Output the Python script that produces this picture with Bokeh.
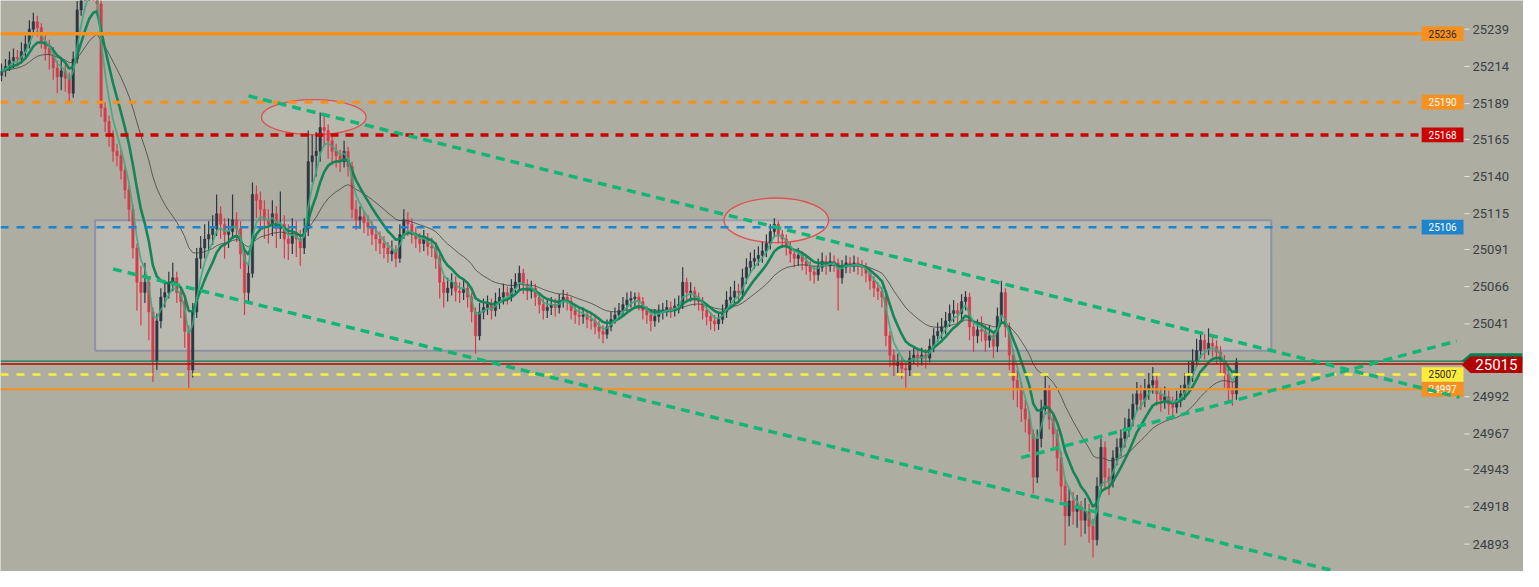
from bokeh.plotting import figure
from bokeh.models import ColumnDataSource, Range1d
from bokeh.core.properties import value
from bokeh.embed import file_html
from bokeh.resources import INLINE

# ---------------- data ----------------
first_open = 25208
closes = [
    25211, 25214, 25218, 25220, 25219, 25224, 25229, 25239, 25244, 25240,
    25231, 25226, 25222, 25213, 25207, 25211, 25206, 25196, 25219, 25252,
    25264, 25272, 25276, 25266, 25256, 25186, 25177, 25167, 25157, 25154,
    25144, 25131, 25118, 25092, 25069, 25062, 25069, 25049, 25016, 25043,
    25059, 25062, 25069, 25072, 25062, 25056, 25036, 25010, 25049, 25085,
    25092, 25098, 25101, 25105, 25115, 25108, 25101, 25103, 25111, 25105,
    25088, 25062, 25075, 25128, 25124, 25118, 25111, 25108, 25115, 25105,
    25108, 25098, 25095, 25101, 25098, 25092, 25105, 25150, 25154, 25157,
    25173, 25171, 25164, 25157, 25154, 25150, 25157, 25147, 25118, 25111,
    25113, 25109, 25106, 25101, 25098, 25095, 25092, 25088, 25090, 25085,
    25101, 25111, 25108, 25101, 25098, 25095, 25098, 25093, 25092, 25085,
    25069, 25062, 25065, 25069, 25063, 25062, 25065, 25059, 25049, 25033,
    25049, 25052, 25054, 25050, 25056, 25059, 25062, 25060, 25065, 25069,
    25075, 25067, 25063, 25065, 25059, 25054, 25050, 25052, 25054, 25052,
    25056, 25059, 25056, 25050, 25047, 25046, 25047, 25044, 25043, 25039,
    25036, 25034, 25039, 25044, 25047, 25050, 25054, 25057, 25058, 25059,
    25056, 25050, 25047, 25043, 25046, 25049, 25050, 25052, 25050, 25053,
    25054, 25069, 25062, 25063, 25059, 25056, 25050, 25046, 25043, 25041,
    25044, 25049, 25057, 25059, 25063, 25062, 25072, 25079, 25083, 25085,
    25087, 25090, 25095, 25103, 25108, 25101, 25098, 25093, 25088, 25085,
    25087, 25083, 25080, 25076, 25074, 25079, 25083, 25080, 25083, 25082,
    25072, 25079, 25082, 25080, 25082, 25080, 25079, 25075, 25070, 25065,
    25063, 25059, 25033, 25020, 25013, 25015, 25011, 25010, 25018, 25020,
    25018, 25020, 25018, 25026, 25033, 25036, 25039, 25043, 25048, 25050,
    25048, 25056, 25059, 25039, 25033, 25037, 25036, 25030, 25033, 25026,
    25046, 25062, 25039, 25020, 25003, 24997, 24984, 24977, 24967, 24938,
    24964, 24984, 24997, 24977, 24967, 24951, 24932, 24912, 24922, 24915,
    24918, 24909, 24915, 24905, 24896, 24932, 24958, 24938, 24935, 24951,
    24958, 24964, 24971, 24977, 24987, 24994, 24990, 24997, 25000, 25003,
    24994, 24990, 24992, 24987, 24985, 24990, 24994, 25000, 25007, 25016,
    25023, 25030, 25024, 25028, 25026, 25022, 25016, 25007, 24997, 24994,
    25015,
]
highs = [
    25216, 25219, 25224, 25226, 25225, 25230, 25236, 25245, 25250, 25248,
    25243, 25236, 25232, 25227, 25218, 25220, 25215, 25210, 25224, 25258,
    25270, 25278, 25282, 25280, 25270, 25260, 25190, 25181, 25171, 25162,
    25158, 25147, 25134, 25121, 25095, 25080, 25082, 25073, 25052, 25048,
    25065, 25070, 25076, 25082, 25076, 25066, 25060, 25040, 25055, 25092,
    25100, 25108, 25110, 25114, 25128, 25120, 25112, 25112, 25128, 25116,
    25110, 25092, 25082, 25136, 25134, 25130, 25124, 25118, 25124, 25120,
    25130, 25114, 25108, 25112, 25110, 25104, 25112, 25171, 25168, 25170,
    25183, 25182, 25175, 25168, 25162, 25158, 25164, 25160, 25150, 25124,
    25120, 25117, 25114, 25110, 25106, 25103, 25100, 25096, 25097, 25094,
    25108, 25118, 25116, 25112, 25106, 25102, 25104, 25102, 25099, 25096,
    25088, 25073, 25072, 25075, 25073, 25069, 25071, 25069, 25062, 25052,
    25055, 25058, 25060, 25058, 25062, 25065, 25068, 25066, 25071, 25075,
    25080, 25078, 25071, 25070, 25068, 25062, 25058, 25057, 25059, 25058,
    25061, 25064, 25062, 25059, 25054, 25052, 25052, 25050, 25048, 25047,
    25043, 25040, 25044, 25049, 25052, 25055, 25059, 25062, 25063, 25062,
    25062, 25059, 25053, 25050, 25051, 25054, 25055, 25057, 25056, 25058,
    25060, 25079, 25072, 25069, 25066, 25062, 25059, 25053, 25049, 25047,
    25049, 25054, 25063, 25066, 25070, 25068, 25078, 25085, 25089, 25091,
    25093, 25096, 25101, 25108, 25112, 25110, 25104, 25101, 25096, 25091,
    25092, 25090, 25087, 25083, 25080, 25085, 25089, 25087, 25089, 25087,
    25085, 25084, 25087, 25086, 25087, 25086, 25084, 25082, 25078, 25073,
    25069, 25066, 25062, 25036, 25024, 25021, 25019, 25016, 25023, 25025,
    25024, 25025, 25024, 25031, 25038, 25042, 25045, 25049, 25054, 25057,
    25055, 25061, 25063, 25062, 25043, 25044, 25046, 25040, 25040, 25036,
    25052, 25070, 25065, 25042, 25024, 25010, 25002, 24990, 24982, 24970,
    24970, 24990, 25006, 25000, 24980, 24970, 24955, 24936, 24930, 24928,
    24926, 24922, 24924, 24920, 24910, 24938, 24964, 24962, 24944, 24956,
    24964, 24970, 24978, 24984, 24994, 25002, 25000, 25004, 25008, 25012,
    25007, 24998, 24999, 24996, 24992, 24996, 25000, 25008, 25016, 25024,
    25031, 25036, 25034, 25038, 25034, 25030, 25026, 25020, 25011, 25002,
    25018,
]
lows = [
    25204, 25207, 25211, 25213, 25214, 25216, 25220, 25226, 25235, 25234,
    25226, 25218, 25212, 25205, 25196, 25198, 25197, 25190, 25193, 25216,
    25248, 25260, 25266, 25260, 25248, 25180, 25170, 25160, 25150, 25147,
    25138, 25125, 25110, 25085, 25050, 25040, 25055, 25030, 25002, 25010,
    25038, 25052, 25058, 25063, 25055, 25045, 25025, 24998, 25005, 25045,
    25078, 25085, 25090, 25094, 25100, 25098, 25085, 25092, 25098, 25096,
    25078, 25047, 25055, 25072, 25112, 25105, 25098, 25095, 25100, 25092,
    25098, 25085, 25084, 25088, 25086, 25080, 25088, 25100, 25136, 25140,
    25150, 25160, 25152, 25148, 25146, 25143, 25146, 25140, 25112, 25104,
    25105, 25102, 25100, 25094, 25090, 25088, 25085, 25082, 25083, 25079,
    25082, 25098, 25100, 25095, 25092, 25089, 25090, 25087, 25086, 25078,
    25058, 25052, 25056, 25060, 25056, 25055, 25057, 25052, 25042, 25021,
    25030, 25044, 25047, 25044, 25046, 25051, 25054, 25054, 25056, 25061,
    25064, 25061, 25057, 25058, 25053, 25048, 25044, 25045, 25047, 25046,
    25048, 25052, 25050, 25044, 25041, 25040, 25041, 25038, 25037, 25034,
    25031, 25028, 25031, 25036, 25041, 25044, 25046, 25050, 25052, 25053,
    25050, 25044, 25041, 25036, 25039, 25042, 25044, 25046, 25045, 25046,
    25048, 25051, 25056, 25056, 25053, 25050, 25044, 25040, 25037, 25036,
    25037, 25041, 25045, 25052, 25055, 25055, 25058, 25068, 25075, 25078,
    25080, 25082, 25086, 25091, 25099, 25095, 25092, 25087, 25082, 25079,
    25080, 25077, 25074, 25070, 25068, 25070, 25076, 25074, 25076, 25076,
    25050, 25068, 25075, 25075, 25076, 25074, 25073, 25069, 25064, 25059,
    25057, 25052, 25026, 25012, 25006, 25008, 25004, 24998, 25006, 25014,
    25012, 25013, 25011, 25015, 25022, 25029, 25031, 25034, 25039, 25042,
    25040, 25044, 25050, 25030, 25022, 25028, 25029, 25022, 25025, 25018,
    25022, 25042, 25032, 25010, 24990, 24985, 24975, 24968, 24955, 24927,
    24934, 24958, 24980, 24970, 24958, 24942, 24922, 24892, 24905, 24906,
    24904, 24898, 24900, 24894, 24884, 24892, 24928, 24930, 24926, 24931,
    24946, 24952, 24958, 24965, 24972, 24982, 24983, 24985, 24990, 24994,
    24986, 24982, 24984, 24980, 24977, 24981, 24985, 24990, 24996, 25002,
    25012, 25018, 25017, 25020, 25019, 25014, 25008, 24998, 24988, 24986,
    24990,
]

y_ticks = [24893, 24918, 24943, 24967, 24992, 25041, 25066, 25091,
           25115, 25140, 25165, 25189, 25214, 25239]
y_tick_labels = [str(t) for t in y_ticks]

level_values = [25236, 25190, 25168, 25106, 25007, 24997]
level_labels = ["25236", "25190", "25168", "25106", "25007", "24997"]
level_colors = ["#f7901e", "#f7901e", "#cc0000", "#1e84cc", "#ffeb3b", "#f7901e"]
level_text_colors = ["#2a2a2a", "#ffffff", "#ffffff", "#ffffff", "#2a2a2a", "#ffffff"]
level_dashes = ["solid", "8 8", "8 7", "8 8", "8 8", "solid"]
level_widths = [3.5, 3.0, 3.5, 2.5, 2.5, 2.0]

last_price = 25015
last_label = "25015"
bid_line = 25016
ask_line = 25014

zone_left, zone_right, zone_bottom, zone_top = [23.5], [318.75], [25023], [25110.6]

ell_x = [78.4, 194.5]
ell_y = [25179.9, 25110.6]
ell_w = [26.25, 26.25]
ell_h = [23.5, 30.0]

trend_x0 = [62.0, 28.0, 256.0]
trend_y0 = [25194.2, 25077.9, 24951.1]
trend_x1 = [366.0, 334.0, 365.25]
trend_y1 = [24991.6, 24875.4, 25029.5]

# ---------------- derived ----------------
n = len(closes)
idx = list(range(n))
opens = [first_open] + closes[:-1]
up = [c >= o for o, c in zip(opens, closes)]
UP_COL, DN_COL = "#2d3741", "#d83a4b"
colors = [UP_COL if u else DN_COL for u in up]
tops = [max(o, c) for o, c in zip(opens, closes)]
bots = [min(o, c) for o, c in zip(opens, closes)]
bots = [b if t - b > 0.6 else t - 0.8 for t, b in zip(tops, bots)]


def ema(vals, period):
    k = 2.0 / (period + 1)
    out, e = [], vals[0]
    for v in vals:
        e = e + k * (v - e)
        out.append(e)
    return out


src = ColumnDataSource(dict(x=idx, o=opens, h=highs, l=lows, c=closes,
                            top=tops, bot=bots, color=colors,
                            fast=ema(closes, 4), mid=ema(closes, 9),
                            slow=ema(closes, 24)))

BG = "#adada1"
W, H = 1523, 571
x_lo = -0.25
axis_x = 367.25                # where the price scale begins
PX = 1464 / (axis_x - x_lo)    # pixels per candle slot
x_hi = x_lo + W / PX
y_lo, y_hi = 24874.6, 25258.3

p = figure(width=W, height=H, output_backend="svg", toolbar_location=None,
           x_range=Range1d(x_lo, x_hi), y_range=Range1d(y_lo, y_hi),
           x_axis_location=None, y_axis_location=None,
           background_fill_color=BG, border_fill_color=BG,
           min_border_left=0, min_border_top=0, min_border_bottom=0,
           min_border_right=0, outline_line_color=None)
p.grid.visible = False

# zone rectangle
p.quad(left=zone_left, right=zone_right, bottom=zone_bottom, top=zone_top,
       fill_color="#c4c5bf", fill_alpha=0.55, line_color="#8e92a6", line_width=2)

# ellipses
p.ellipse(x=ell_x, y=ell_y, width=ell_w, height=ell_h, fill_color="#ffffff",
          fill_alpha=0.12, line_color="#e0504f", line_width=1.3)

# candles
p.segment(x0="x", y0="l", x1="x", y1="h", color="color", line_width=1.2, source=src)
p.vbar(x="x", width=0.6, top="top", bottom="bot", fill_color="color",
       line_color="color", line_width=0.5, source=src)

# moving averages
p.line("x", "slow", source=src, line_color="#3e3e3e", line_width=1.0, line_alpha=0.75)
p.line("x", "mid", source=src, line_color="#0b8455", line_width=2.6, line_alpha=0.95)
p.line("x", "fast", source=src, line_color="#35ab80", line_width=1.8, line_alpha=0.85)

# bid / ask lines
p.line(x=[x_lo, axis_x], y=[bid_line, bid_line], line_color="#0b7d50", line_width=1.2)
p.line(x=[x_lo, axis_x], y=[ask_line, ask_line], line_color="#c00000", line_width=1.5)

# horizontal levels + price tags
tag_x0, tag_x1 = axis_x - 10.75, axis_x - 0.25
for v, col, dash, w in zip(level_values, level_colors, level_dashes, level_widths):
    p.line(x=[x_lo, tag_x0], y=[v, v], line_color=col, line_dash=dash, line_width=w)
p.rect(x=[(tag_x0 + tag_x1) / 2] * len(level_values), y=level_values,
       width=tag_x1 - tag_x0, height=9.8, fill_color=level_colors, line_color=None)
p.text(x=[(tag_x0 + tag_x1) / 2] * len(level_values), y=level_values,
       text=level_labels, text_color=level_text_colors, text_align="center",
       text_baseline="middle", text_font=value("Roboto"), text_font_size="10px")

# trend lines
p.segment(x0=trend_x0, y0=trend_y0, x1=trend_x1, y1=trend_y1, line_color="#13b577",
          line_width=3.5, line_dash="9 6")

# price scale (ticks and labels)
p.segment(x0=[axis_x] * len(y_ticks), y0=y_ticks, x1=[axis_x + 1.25] * len(y_ticks),
          y1=y_ticks, line_color="#e8e8e2", line_width=1)
p.text(x=[axis_x + 2.0] * len(y_ticks), y=y_ticks, text=y_tick_labels,
       text_color="#3a3f44", text_align="left", text_baseline="middle",
       text_font=value("Roboto"), text_font_size="13px")

# last price tag over the price scale
tip_x, box_x0, box_x1 = axis_x - 0.75, axis_x + 1.5, x_hi - 0.3
p.patch(x=[tip_x - 0.2, box_x0, box_x1, box_x1, box_x0],
        y=[last_price + 0.6, last_price + 6.2, last_price + 6.2, last_price, last_price],
        fill_color="#0b7d50", line_color=None)
p.patch(x=[tip_x, box_x0, box_x1, box_x1, box_x0],
        y=[last_price - 1.3, last_price + 4.1, last_price + 4.1, last_price - 7.0,
           last_price - 7.0],
        fill_color="#b30000", line_color=None)
p.text(x=[(box_x0 + box_x1) / 2], y=[last_price - 1.5], text=[last_label],
       text_color="#ffffff", text_align="center", text_baseline="middle",
       text_font=value("Roboto"), text_font_size="15px")

open("out.html", "w").write(file_html(p, INLINE))
